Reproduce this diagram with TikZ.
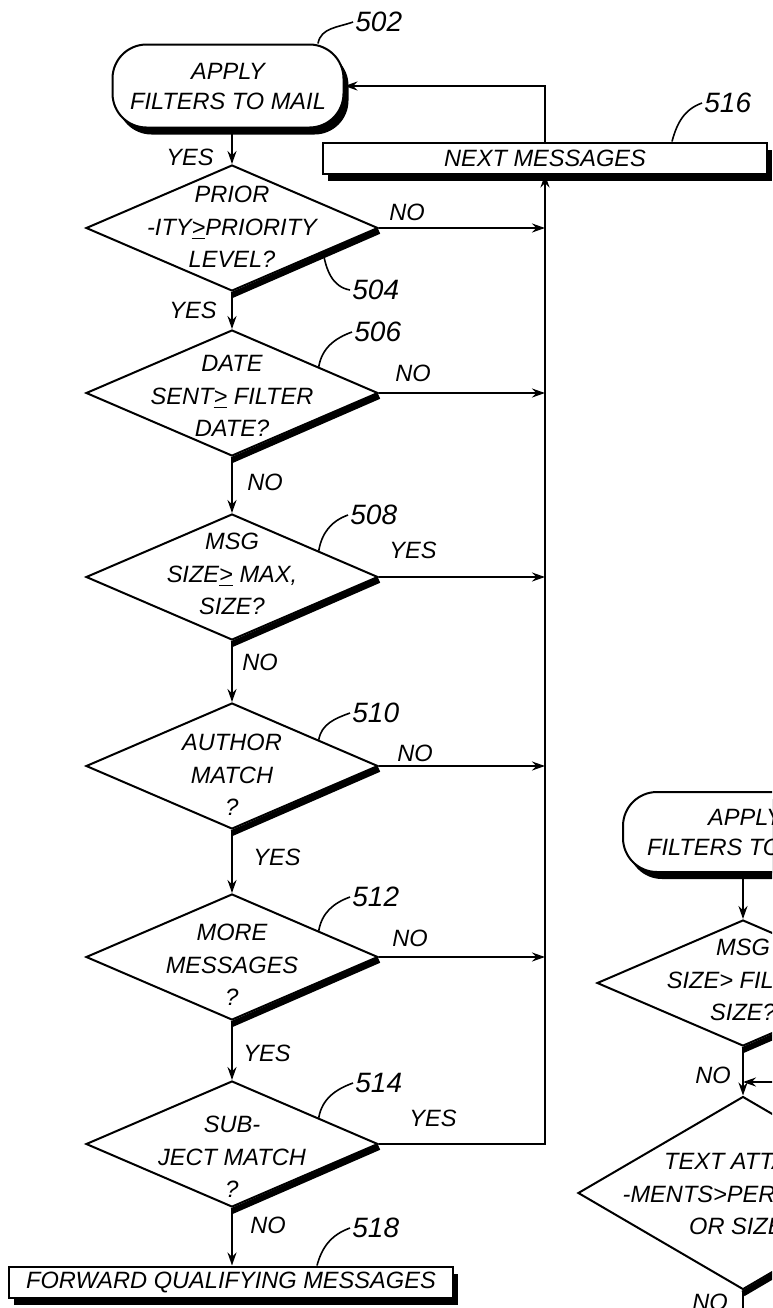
\documentclass[tikz,border=0pt]{standalone}
\usepackage{fontspec}
\setmainfont{Liberation Sans}
\usetikzlibrary{shapes.geometric,shadows,arrows.meta,calc}

\tikzset{
  blackshadow/.style={drop shadow={fill=black,opacity=1,shadow xshift=2.5pt,shadow yshift=-3.5pt}},
  term/.style={draw,line width=1pt,fill=white,rounded corners=17pt,minimum width=115.5pt,
               minimum height=41.5pt,inner sep=1pt,align=center,
               font=\itshape\fontsize{11.8}{15}\selectfont,blackshadow},
  box/.style={draw,line width=1pt,fill=white,minimum width=222pt,minimum height=15.5pt,
              inner sep=1pt,font=\itshape\fontsize{11.8}{14}\selectfont,blackshadow},
  dia/.style={diamond,draw,line width=1pt,minimum width=146pt,minimum height=63pt,inner sep=0pt},
  dtext/.style={align=center,inner sep=0pt,font=\itshape\fontsize{11.8}{16.3}\selectfont},
  heavy/.style={line width=3pt},
  arr/.style={line width=1pt,-{Stealth[length=6.5pt,width=4.5pt]}},
  yn/.style={inner sep=0pt,font=\itshape\fontsize{11.8}{14}\selectfont},
  refnum/.style={anchor=west,inner sep=1pt,font=\itshape\fontsize{14}{16}\selectfont},
  lead/.style={line width=0.8pt}
}

\begin{document}
\begin{tikzpicture}[x=0.5pt,y=-0.5pt]
    \useasboundingbox (0,0) rectangle (772,1308);
    \clip (0,0) rectangle (772,1308);

    % left flow
    \node[term] (t502) at (228,86) {APPLY\\FILTERS TO MAIL};
    \node[box] (b516) at (545,158) {NEXT MESSAGES};

    \node[dia] (d504) at (232,228) {};
    \node[dtext] (d504t) at (232,227) {PRIOR\\-ITY\underline{>}PRIORITY\\LEVEL?};
    \node[dia] (d506) at (232,393) {};
    \node[dtext] (d506t) at (232,396) {DATE\\SENT\underline{>} FILTER\\DATE?};
    \node[dia] (d508) at (232,577) {};
    \node[dtext] (d508t) at (232,574) {MSG\\SIZE\underline{>} MAX,\\SIZE?};
    \node[dia] (d510) at (232,766) {};
    \node[dtext] (d510t) at (232,775) {AUTHOR\\MATCH\\?};
    \node[dia] (d512) at (232,957) {};
    \node[dtext] (d512t) at (232,965) {MORE\\MESSAGES\\?};
    \node[dia] (d514) at (232,1144) {};
    \node[dtext] (d514t) at (232,1157) {SUB-\\JECT MATCH\\?};

    \node[box] (b518) at (231,1282) {FORWARD QUALIFYING MESSAGES};

    \foreach \d in {d504,d506,d508,d510,d512,d514}
        \draw[heavy] ([yshift=-1.5pt]\d.east) -- ([yshift=-1.5pt]\d.south);

    % down the column
    \draw[arr] (t502.south -| d504.north) -- (d504.north);
    \draw[arr] (d504.south) -- (d506.north);
    \draw[arr] (d506.south) -- (d508.north);
    \draw[arr] (d508.south) -- (d510.north);
    \draw[arr] (d510.south) -- (d512.north);
    \draw[arr] (d512.south) -- (d514.north);
    \draw[arr] (d514.south) -- (b518.north -| d514.south);

    % over to the right
    \foreach \d in {d504,d506,d508,d510,d512}
        \draw[arr] (\d.east) -- (\d.east -| b516.south);
    \draw[arr] (d514.east) -| (b516.south);
    \draw[arr] (b516.north) |- (t502.east);

    \node[yn] (y1) at (190,157) {YES};
    \node[yn] (y2) at (193,310) {YES};
    \node[yn] (n3) at (265,482) {NO};
    \node[yn] (n4) at (260,662) {NO};
    \node[yn] (y5) at (277,857) {YES};
    \node[yn] (y6) at (267,1053) {YES};
    \node[yn] (n7) at (268,1225) {NO};
    \node[yn] (n504) at (407,212) {NO};
    \node[yn] (n506) at (413,373) {NO};
    \node[yn] (y508) at (413,550) {YES};
    \node[yn] (n510) at (415,753) {NO};
    \node[yn] (n512) at (410,938) {NO};
    \node[yn] (y514) at (433,1118) {YES};

    % reference numerals
    \node[refnum] (r502) at (353,22) {502};
    \node[refnum] (r516) at (702,103) {516};
    \node[refnum] (r504) at (350,290) {504};
    \node[refnum] (r506) at (352,332) {506};
    \node[refnum] (r508) at (348,515) {508};
    \node[refnum] (r510) at (350,713) {510};
    \node[refnum] (r512) at (350,897) {512};
    \node[refnum] (r514) at (353,1083) {514};
    \node[refnum] (r518) at (350,1228) {518};

    \draw[lead] ([xshift=45pt]t502.north) to[out=80,in=200] (r502.west);
    \draw[lead] ([xshift=63.5pt]b516.north) to[out=75,in=200] (r516.west);
    \draw[lead] ($(d504.east)!0.38!(d504.south)$) to[out=-80,in=170] (r504.west);
    \foreach \d in {506,508,510,512,514}
        \draw[lead] ($(d\d.north)!0.59!(d\d.east)$) to[out=80,in=200] (r\d.west);
    \draw[lead] ([xshift=43pt]b518.north) to[out=75,in=200] (r518.west);

    % second flow, cut off at the right
    \node[term,minimum width=122pt,minimum height=40pt] (tB) at (745,832) {APPLY\\FILTERS TO MAIL};
    \node[dia] (dB1) at (743,983) {};
    \node[dtext] (dB1t) at (743,980) {MSG\\SIZE> FILTER\\SIZE?};
    \node[dia,minimum width=165pt,minimum height=96.5pt] (dB2) at (743,1193) {};
    \node[dtext] (dB2t) at (743,1194) {TEXT ATTACH\\-MENTS>PERMITTED\\OR SIZE?};
    \foreach \d in {dB1,dB2}
        \draw[heavy] ([yshift=-1.5pt]\d.east) -- ([yshift=-1.5pt]\d.south);
    \draw[arr] (tB.south -| dB1.north) -- (dB1.north);
    \draw[arr] (dB1.south) -- (dB2.north);
    \coordinate (back) at (800,1082);
    \draw[arr] (back) -- (back -| dB2.north);
    \draw[line width=1pt] (dB2.south) -- ++(0,40);
    \node[yn] (nB1) at (713,1075) {NO};
    \node[yn] (nB2) at (710,1302) {NO};
\end{tikzpicture}
\end{document}
